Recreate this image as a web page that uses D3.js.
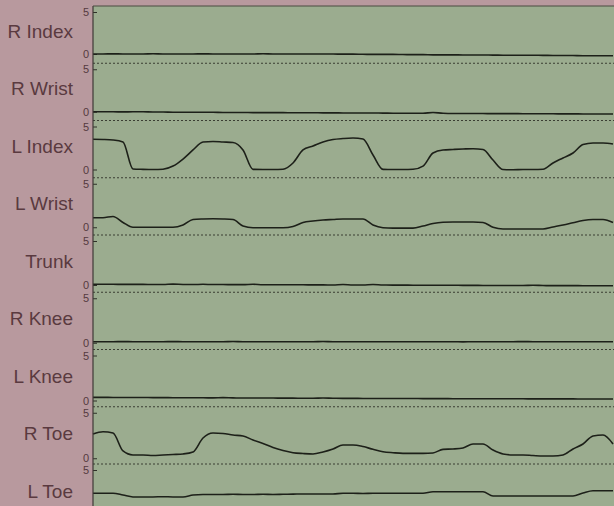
<!DOCTYPE html>
<html>
<head>
<meta charset="utf-8">
<script src="https://cdn.jsdelivr.net/npm/d3@7"></script>
<style>
  body { margin: 0; background: #b8999e; }
  svg { display: block; }
</style>
</head>
<body>
<div id="chart"></div>
<script>
// channel names, top to bottom
var channels = ["R Index", "R Wrist", "L Index", "L Wrist", "Trunk", "R Knee", "L Knee", "R Toe", "L Toe"];
var yTicks = [0, 5];

// sample index along the trace (53 samples)
var time = d3.range(0, 53);

// values, one per sample
var rIndex = [0,0,0.02,0,0,0,0.03,0,0,0,0,0.02,0,0,0,0,0,0.03,0,0,0,0,0,0,0,-0.02,-0.02,-0.03,-0.05,-0.05,-0.05,-0.06,-0.08,-0.08,-0.1,-0.1,-0.1,-0.12,-0.12,-0.12,-0.13,-0.14,-0.15,-0.15,-0.15,-0.16,-0.17,-0.17,-0.18,-0.2,-0.2,-0.2,-0.2];
var rWrist = [0,0,0,-0.02,0,0,-0.03,-0.03,-0.05,-0.05,-0.05,-0.06,-0.06,-0.08,-0.08,-0.08,-0.1,-0.1,-0.1,-0.1,-0.12,-0.12,-0.12,-0.13,-0.13,-0.14,-0.15,-0.15,-0.15,-0.16,-0.17,-0.17,-0.18,-0.18,-0.08,-0.18,-0.2,-0.2,-0.2,-0.21,-0.22,-0.22,-0.22,-0.23,-0.23,-0.24,-0.24,-0.25,-0.25,-0.26,-0.26,-0.27,-0.27];
var lIndex = [3.51,3.49,3.43,3.2,0.06,0.02,0,0.03,0.4,1.22,2.27,3.2,3.26,3.2,3.14,2.27,0.02,0,0,0.03,0.76,2.27,2.73,3.2,3.49,3.6,3.66,3.55,1.69,0.02,0,0,0.03,0.4,1.92,2.27,2.33,2.38,2.42,2.33,1.1,0,-0.03,0,0,0.03,0.76,1.34,1.92,2.9,3.08,3.08,2.97];
var lWrist = [1.1,1.1,1.24,0.55,0,0,0,0,0,0.26,0.89,0.95,0.97,0.95,0.89,0.14,-0.05,-0.05,-0.05,-0.05,0.09,0.55,0.72,0.83,0.89,0.95,0.95,0.95,0.26,-0.05,-0.1,-0.1,-0.1,0.14,0.43,0.57,0.6,0.6,0.6,0.55,0,-0.2,-0.2,-0.2,-0.2,-0.2,0.03,0.26,0.52,0.78,0.89,0.89,0.55];
var trunk = [0.08,0.08,0.08,0.07,0.07,0.07,0.06,0.06,0.1,0.06,0.05,0.08,0.05,0.05,0.04,0.04,0.08,0.03,0.03,0.02,0.02,0.02,0.01,0.01,0,0.05,0,0,0.06,0,-0.01,-0.01,-0.02,-0.02,-0.03,-0.03,-0.03,-0.04,-0.04,-0.05,-0.05,-0.05,-0.06,-0.06,-0.03,-0.06,-0.07,-0.07,-0.07,-0.08,-0.08,-0.08,-0.08];
var rKnee = [0.12,0.12,0.12,0.13,0.12,0.12,0.12,0.12,0.13,0.12,0.12,0.12,0.12,0.12,0.14,0.12,0.12,0.11,0.12,0.12,0.12,0.12,0.12,0.14,0.12,0.12,0.12,0.12,0.12,0.12,0.11,0.12,0.12,0.12,0.12,0.12,0.12,0.1,0.12,0.12,0.12,0.12,0.12,0.13,0.12,0.12,0.12,0.12,0.12,0.12,0.12,0.12,0.11];
var lKnee = [0.35,0.35,0.34,0.34,0.33,0.33,0.32,0.32,0.31,0.31,0.3,0.3,0.29,0.32,0.29,0.28,0.28,0.27,0.27,0.26,0.26,0.25,0.25,0.28,0.25,0.24,0.24,0.23,0.23,0.23,0.22,0.22,0.22,0.21,0.21,0.21,0.2,0.2,0.2,0.2,0.19,0.19,0.19,0.19,0.18,0.18,0.18,0.18,0.18,0.17,0.17,0.17,0.17];
var rToe = [2.66,2.92,2.77,0.8,0.36,0.36,0.3,0.36,0.41,0.47,0.69,2.23,2.77,2.72,2.55,2.45,2.0,1.62,1.18,0.85,0.61,0.52,0.47,0.69,1.02,1.46,1.46,1.29,0.98,0.72,0.61,0.54,0.54,0.54,0.58,0.98,1.02,1.13,1.57,1.57,0.9,0.47,0.36,0.36,0.3,0.25,0.25,0.36,1.02,1.57,2.45,2.55,1.57];
var lToe = [2.47,2.47,2.47,2.28,2.07,2.07,2.07,2.1,2.07,2.07,2.28,2.34,2.34,2.34,2.36,2.34,2.34,2.36,2.34,2.36,2.38,2.39,2.39,2.39,2.39,2.47,2.47,2.45,2.47,2.47,2.47,2.47,2.47,2.47,2.64,2.64,2.64,2.64,2.64,2.64,2.17,2.17,2.17,2.17,2.17,2.17,2.17,2.17,2.17,2.5,2.75,2.75,2.75];

var series = [rIndex, rWrist, lIndex, lWrist, trunk, rKnee, lKnee, rToe, lToe];

var w = 614;
var h = 506;
var plotLeft = 93;
var plotTop = 6;

var svg = d3.select("#chart")
    .append("svg")
    .attr("width", w)
    .attr("height", h);

// green plot area
svg.append("rect")
    .attr("x", plotLeft)
    .attr("y", plotTop)
    .attr("width", w - plotLeft)
    .attr("height", h - plotTop)
    .attr("fill", "#9bac8f");

var xScale = d3.scaleLinear()
    .domain([0, 52])
    .range([plotLeft, 613]);

channels.forEach(function(name, i) {
    // each strip is a little taller further down (photo perspective)
    var y5 = 12 + 57.25 * i;
    var y0 = y5 + 42 + 0.5 * i;

    var yScale = d3.scaleLinear()
        .domain([0, 5])
        .range([y0, y5]);

    // dotted separator under each strip
    svg.append("line")
        .attr("x1", plotLeft)
        .attr("x2", w)
        .attr("y1", y5 + 51.25)
        .attr("y2", y5 + 51.25)
        .attr("stroke", "#3b3e33")
        .attr("stroke-width", 1)
        .attr("stroke-dasharray", "2,2");

    // the last strip runs off the bottom of the photo
    var yAxis = d3.axisLeft(yScale)
        .tickValues(yTicks.filter(v => yScale(v) < h - 4))
        .tickFormat(d3.format("d"))
        .tickSize(-4)
        .tickSizeOuter(0)
        .tickPadding(4);

    var g = svg.append("g")
        .attr("transform", `translate(${plotLeft},0)`)
        .call(yAxis);
    g.select(".domain").remove();
    g.selectAll(".tick line").attr("stroke", "#2e3028");
    g.selectAll(".tick text")
        .attr("fill", "#553a3f")
        .attr("font-family", "Liberation Sans, Arial, sans-serif")
        .attr("font-size", "11px");

    // channel label
    svg.append("text")
        .attr("x", 73)
        .attr("y", (y5 + y0) / 2 - 2)
        .attr("text-anchor", "end")
        .attr("dominant-baseline", "central")
        .attr("font-family", "Liberation Sans, Arial, sans-serif")
        .attr("font-size", "19px")
        .attr("fill", "#5a3a40")
        .text(name);

    var line = d3.line()
        .x((d, j) => xScale(time[j]))
        .y(d => yScale(d))
        .curve(d3.curveMonotoneX);

    svg.append("path")
        .datum(series[i])
        .attr("d", line)
        .attr("fill", "none")
        .attr("stroke", "#1d2019")
        .attr("stroke-width", 1.6);
});

// left and top frame
svg.append("line")
    .attr("x1", plotLeft).attr("x2", plotLeft)
    .attr("y1", plotTop).attr("y2", h)
    .attr("stroke", "#3f3a36")
    .attr("stroke-width", 1.2);
svg.append("line")
    .attr("x1", plotLeft).attr("x2", w)
    .attr("y1", plotTop).attr("y2", plotTop)
    .attr("stroke", "#4a4a40")
    .attr("stroke-width", 1);
</script>
</body>
</html>
